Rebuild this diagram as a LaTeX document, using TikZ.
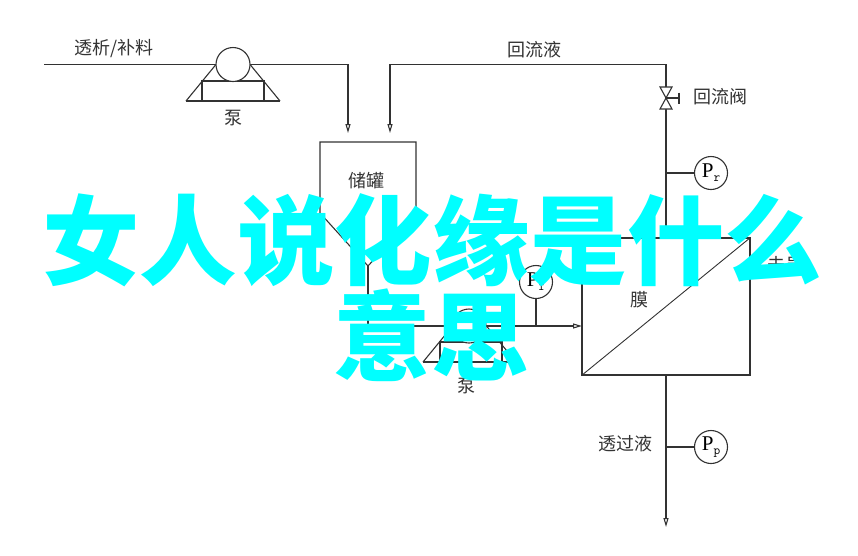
\documentclass[tikz,border=0pt]{standalone}
\usepackage{fontspec}
\usetikzlibrary{arrows.meta}
\newfontfamily\cjk{Noto Sans CJK SC}
\setmainfont{Liberation Serif}
\definecolor{overlaycyan}{RGB}{0,255,255}
\definecolor{pipegray}{RGB}{50,50,50}
\tikzset{
  pipe/.style={pipegray,line width=1.1pt},
  label/.style={font=\cjk\fontsize{18}{18}\selectfont,text=black!80,inner sep=0pt},
  gauge/.style={circle,draw=pipegray,line width=1.1pt,fill=white,minimum size=33pt,inner sep=0pt,font=\fontsize{21}{21}\selectfont},
  pumphead/.style={circle,draw=pipegray,line width=1.1pt,fill=white,minimum size=34pt,inner sep=0pt},
  overlay/.style={font=\cjk\bfseries\fontsize{97.5}{97.5}\selectfont,text=overlaycyan,inner sep=0pt}
}
\newcommand{\gaugesub}[1]{\raisebox{-4pt}{\fontsize{13}{13}\selectfont\ttfamily #1}}
\begin{document}
\begin{tikzpicture}[x=1pt,y=-1pt,>={Triangle[open,length=9pt,width=5pt]}]
\useasboundingbox (0,0) rectangle (858,555);
%feed pump
    \coordinate (feedin) at (44,64.5);
    \coordinate (feedcorner) at (348,64.5);
    \coordinate (feedend) at (348,133);
    \draw[pipe] (202,81) rectangle (264,101);
    \draw[pipe] (186,101) -- (280,101);
    \draw[pipe] (186,101) -- (218,62);
    \draw[pipe] (280,101) -- (248,62);
    \node[pumphead] (feedpump) at (233,64.5) {};
    \draw[pipe] (feedin) -- (feedpump);
    \draw[pipe,->] (feedpump) -- (feedcorner) -- (feedend);
    \node[label] (feedlabel) at (114,49) {透析/补料};
    \node[label] (feedpumplabel) at (233,118) {泵};
%tank and feed line to the membrane
    \draw[pipe] (320,213) -- (320,142) -- (416,142) -- (416,213) -- (368,266) -- cycle;
    \coordinate (tankout) at (368,266);
    \coordinate (tee) at (368,326);
    \coordinate (membranein) at (582,326);
    \node[label] (tanklabel) at (366,181) {储罐};
    \draw[pipe] (tankout) -- (tee);
    \draw[pipe] (440,342) rectangle (502,362);
    \draw[pipe] (423,362) -- (516,362);
    \draw[pipe] (423,362) -- (455,323);
    \draw[pipe] (516,362) -- (484,323);
    \node[pumphead] (mainpump) at (469,326) {};
    \draw[pipe] (tee) -- (mainpump);
    \draw[pipe,->] (mainpump) -- (membranein);
    \node[label] (mainpumplabel) at (466,386) {泵};
    \node[gauge] (gaugef) at (536,282) {P\gaugesub{f}};
    \coordinate (gaugeftee) at (536,326);
    \draw[pipe] (gaugef) -- (gaugeftee);
%membrane
    \node[draw=pipegray,line width=1.1pt,minimum width=168pt,minimum height=137pt,inner sep=0pt] (membrane) at (666,306.5) {};
    \draw[pipegray,line width=0.9pt] (membrane.south west) -- (membrane.north east);
    \node[label] (membranelabel) at (639,300) {膜};
    \node[label] (rejectlabel) at (785,265) {未员};
%return line
    \coordinate (returnend) at (390,133);
    \coordinate (returncorner) at (390,64.5);
    \coordinate (returntop) at (666,64.5);
    \coordinate (valve) at (666,98);
    \coordinate (gaugertee) at (666,173);
    \draw[pipe,->] (valve) -- (returntop) -- (returncorner) -- (returnend);
    \draw[pipe] (valve) -- (membrane.north);
    \draw[pipe,fill=white] (660,87) -- (672,87) -- (660,109) -- (672,109) -- cycle;
    \draw[pipe] (valve) -- (679,98) (679,92.5) -- (679,103.5);
    \node[label] (returnlabel) at (534,50) {回流液};
    \node[label] (valvelabel) at (720,97) {回流阀};
    \node[gauge] (gauger) at (711,173) {P\gaugesub{r}};
    \draw[pipe] (gaugertee) -- (gauger);
%permeate line
    \coordinate (permeateend) at (666,527);
    \coordinate (gaugeptee) at (666,447);
    \draw[pipe,->] (membrane.south) -- (permeateend);
    \node[label] (permeatelabel) at (625,444) {透过液};
    \node[gauge] (gaugep) at (711,447) {P\gaugesub{p}};
    \draw[pipe] (gaugeptee) -- (gaugep);
%overlay caption
    \node[overlay] (captionone) at (432,240) {女人说化缘是什么};
    \node[overlay] (captiontwo) at (431,335) {意思};
\end{tikzpicture}
\end{document}
